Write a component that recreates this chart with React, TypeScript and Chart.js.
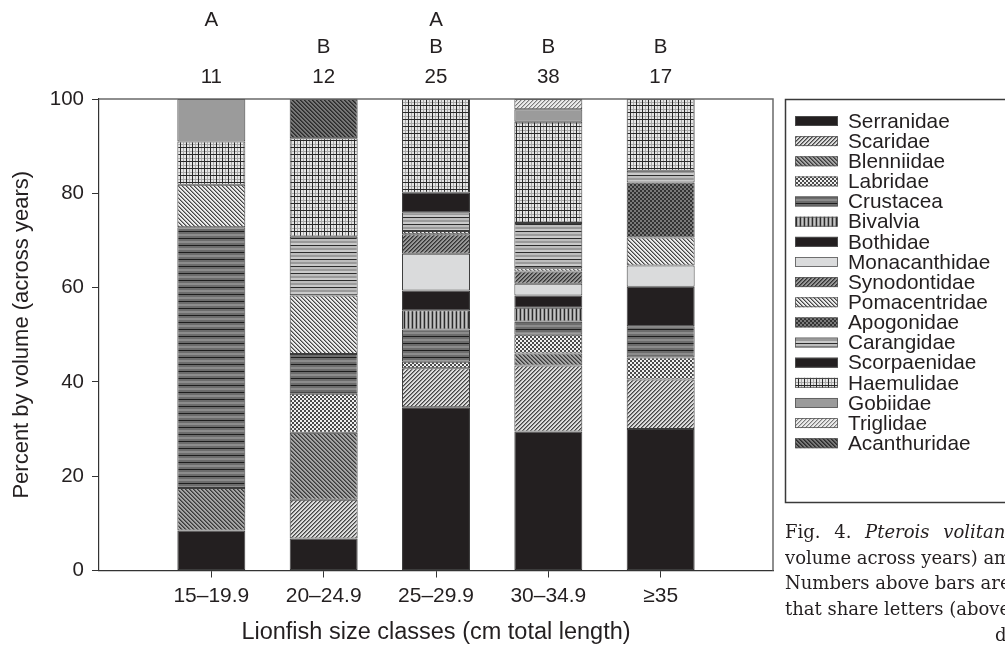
import { useEffect, useRef } from 'react';
import { Chart, registerables } from 'chart.js';

Chart.register(...registerables);

// Size classes (cm total length) and annotations above each bar
const sizeClasses = ['15–19.9', '20–24.9', '25–29.9', '30–34.9', '≥35'];
const sampleSizes = ['11', '12', '25', '38', '17'];
const groupLettersA = ['A', '', 'A', '', ''];
const groupLettersB = ['', 'B', 'B', 'B', 'B'];
const yTickStep = 20;

// Percent by volume of each prey group, one value per size class
const serranidae = [8.5, 6.8, 34.6, 29.5, 30.0];
const scaridae = [0, 8.2, 8.3, 14.0, 10.5];
const blenniidae = [9.0, 14.2, 0, 2.5, 0];
const labridae = [0, 8.3, 1.4, 4.0, 4.7];
const crustacea = [55.3, 8.4, 6.8, 2.8, 6.6];
const bivalvia = [0, 0, 4.1, 2.9, 0];
const bothidae = [0, 0, 4.2, 2.6, 8.4];
const monacanthidae = [0, 0, 7.8, 2.5, 4.5];
const synodontidae = [0, 0, 4.1, 2.6, 0];
const pomacentridae = [9.0, 12.4, 0.7, 0.7, 5.9];
const apogonidae = [0, 0, 0, 0, 11.7];
const carangidae = [0, 12.5, 4.0, 9.6, 2.5];
const scorpaenidae = [0, 0, 4.1, 0, 0];
const haemulidae = [9.2, 20.9, 19.9, 21.5, 15.2];
const gobiidae = [9.0, 0, 0, 2.6, 0];
const triglidae = [0, 0, 0, 2.2, 0];
const acanthuridae = [0, 8.3, 0, 0, 0];

const SANS = '"Liberation Sans", Arial, Helvetica, sans-serif';
const INK = '#231f20';

type PixelFn = (x: number, y: number) => string;

// Builds a small repeating tile, painted pixel by pixel
function tile(w: number, h: number, colorAt: PixelFn): CanvasPattern | string {
  const c = document.createElement('canvas');
  c.width = w;
  c.height = h;
  const g = c.getContext('2d');
  if (!g) return '#888';
  for (let y = 0; y < h; y++) {
    for (let x = 0; x < w; x++) {
      g.fillStyle = colorAt(x, y);
      g.fillRect(x, y, 1, 1);
    }
  }
  return g.createPattern(c, 'repeat') || '#888';
}

// "/" stripes
const slash = (cols: string[]) => tile(cols.length, cols.length, (x, y) => cols[(x + y) % cols.length]);
// "\" stripes
const backslash = (cols: string[]) =>
  tile(cols.length, cols.length, (x, y) => cols[(x - y + cols.length * 4) % cols.length]);
const rows = (cols: string[]) => tile(1, cols.length, (_x, y) => cols[y]);
const columns = (cols: string[]) => tile(cols.length, 1, (x) => cols[x]);
const checker = (a: string, b: string) => tile(4, 4, (x, y) => (((x >> 1) + (y >> 1)) % 2 === 0 ? a : b));

function buildFills() {
  return {
    serranidae: INK,
    scaridae: slash(['#454545', '#8a8a8a', '#dedede', '#dedede']),
    blenniidae: backslash(['#3a3a3a', '#666666', '#a6a6a6', '#a6a6a6']),
    labridae: checker('#f0f0f0', '#4a4a4a'),
    crustacea: rows(['#1e1e1e', '#6c6c6c', '#6c6c6c', '#8c8c8c', '#8c8c8c', '#6c6c6c', '#6c6c6c']),
    bivalvia: columns(['#2a2a2a', '#a4a4a4', '#c4c4c4', '#8e8e8e']),
    bothidae: INK,
    monacanthidae: '#dadbdc',
    synodontidae: slash(['#333333', '#5e5e5e', '#979797', '#979797']),
    pomacentridae: backslash(['#444444', '#9a9a9a', '#ececec', '#ececec']),
    apogonidae: checker('#7a7a7a', '#333333'),
    carangidae: rows(['#2c2c2c', '#bdbdbd', '#bdbdbd', '#9a9a9a', '#9a9a9a', '#cacaca', '#cacaca']),
    scorpaenidae: INK,
    haemulidae: tile(6, 7, (x, y) => {
      if (x === 0 || y === 0) return '#2a2a2a';
      if (x === 3 || y === 4) return '#a8a8a8';
      return '#e6e6e6';
    }),
    gobiidae: '#9b9b9b',
    triglidae: slash(['#7a7a7a', '#c4c4c4', '#ececec', '#ececec']),
    acanthuridae: backslash(['#2a2a2a', '#444444', '#777777', '#777777']),
  };
}

// Legend drawn in a box to the right of the plot
const legendBox = {
  id: 'legendBox',
  afterDraw(chart: any) {
    const ctx = chart.ctx as CanvasRenderingContext2D;
    ctx.save();
    ctx.strokeStyle = '#3a3a3a';
    ctx.lineWidth = 1.5;
    ctx.strokeRect(785.5, 99.5, 260, 403);
    ctx.font = `20.8px ${SANS}`;
    ctx.textBaseline = 'middle';
    ctx.textAlign = 'left';
    chart.data.datasets.forEach((ds: any, i: number) => {
      const cy = 121 + i * 20.14;
      ctx.fillStyle = ds.backgroundColor;
      ctx.fillRect(795, cy - 5, 43, 10);
      ctx.strokeStyle = '#555';
      ctx.lineWidth = 0.8;
      ctx.strokeRect(795.5, cy - 4.5, 42, 9);
      ctx.fillStyle = INK;
      ctx.fillText(ds.label, 848, cy + 1);
    });
    ctx.restore();
  },
};

// Top and right edges of the plot frame
const plotFrame = {
  id: 'plotFrame',
  afterDraw(chart: any) {
    const { ctx, chartArea } = chart;
    ctx.save();
    ctx.strokeStyle = '#6a6a6a';
    ctx.lineWidth = 1.5;
    ctx.beginPath();
    ctx.moveTo(chartArea.left, chartArea.top);
    ctx.lineTo(chartArea.right, chartArea.top);
    ctx.lineTo(chartArea.right, chartArea.bottom);
    ctx.stroke();
    ctx.restore();
  },
};

// Group letters and sample sizes above each bar
const barHeaders = {
  id: 'barHeaders',
  afterDraw(chart: any) {
    const ctx = chart.ctx as CanvasRenderingContext2D;
    const xs = chart.scales.x;
    ctx.save();
    ctx.font = `20.5px ${SANS}`;
    ctx.fillStyle = INK;
    ctx.textAlign = 'center';
    ctx.textBaseline = 'middle';
    sizeClasses.forEach((_c, i) => {
      const x = xs.getPixelForValue(i + 1);
      if (groupLettersA[i]) ctx.fillText(groupLettersA[i], x, 20);
      if (groupLettersB[i]) ctx.fillText(groupLettersB[i], x, 47);
      ctx.fillText(sampleSizes[i], x, 77);
    });
    ctx.restore();
  },
};

export default function App() {
  const ref = useRef<HTMLCanvasElement>(null);

  useEffect(() => {
    if (!ref.current) return;
    const f = buildFills();
    const groups: [string, number[], CanvasPattern | string][] = [
      ['Serranidae', serranidae, f.serranidae],
      ['Scaridae', scaridae, f.scaridae],
      ['Blenniidae', blenniidae, f.blenniidae],
      ['Labridae', labridae, f.labridae],
      ['Crustacea', crustacea, f.crustacea],
      ['Bivalvia', bivalvia, f.bivalvia],
      ['Bothidae', bothidae, f.bothidae],
      ['Monacanthidae', monacanthidae, f.monacanthidae],
      ['Synodontidae', synodontidae, f.synodontidae],
      ['Pomacentridae', pomacentridae, f.pomacentridae],
      ['Apogonidae', apogonidae, f.apogonidae],
      ['Carangidae', carangidae, f.carangidae],
      ['Scorpaenidae', scorpaenidae, f.scorpaenidae],
      ['Haemulidae', haemulidae, f.haemulidae],
      ['Gobiidae', gobiidae, f.gobiidae],
      ['Triglidae', triglidae, f.triglidae],
      ['Acanthuridae', acanthuridae, f.acanthuridae],
    ];

    const chart = new Chart(ref.current, {
      type: 'bar',
      data: {
        datasets: groups.map(([label, values, fill]) => ({
          label,
          data: values.map((v, i) => ({ x: i + 1, y: v > 0 ? v : null })),
          backgroundColor: fill as any,
          borderColor: '#3c3c3c',
          borderWidth: 1,
          borderSkipped: false,
          barPercentage: 0.605,
          categoryPercentage: 1,
        })) as any,
      },
      options: {
        responsive: false,
        animation: false,
        events: [],
        layout: { padding: { left: 0, top: 99, right: 232, bottom: 0 } },
        plugins: { legend: { display: false }, tooltip: { enabled: false } },
        scales: {
          x: {
            type: 'linear',
            min: 0,
            max: 6,
            offset: false,
            stacked: true,
            afterBuildTicks: (s: any) => {
              s.ticks = sizeClasses.map((_c, i) => ({ value: i + 1 }));
            },
            afterFit: (s: any) => {
              s.height = 79.5;
            },
            ticks: {
              autoSkip: false,
              maxRotation: 0,
              padding: 6,
              color: INK,
              font: { family: SANS, size: 21 },
              callback: (v: any) => sizeClasses[Number(v) - 1] ?? '',
            },
            grid: { offset: false, drawOnChartArea: false, tickLength: 7, color: '#333', tickColor: '#333' },
            border: { color: '#333', width: 1.2 },
            title: {
              display: true,
              text: 'Lionfish size classes (cm total length)',
              color: INK,
              font: { family: SANS, size: 23.5 },
              padding: { top: 0, bottom: 3 },
            },
          },
          y: {
            min: 0,
            max: 100,
            stacked: true,
            afterFit: (s: any) => {
              s.width = 99;
            },
            ticks: {
              stepSize: yTickStep,
              padding: 8,
              color: INK,
              font: { family: SANS, size: 20.5 },
            },
            grid: { drawOnChartArea: false, tickLength: 7, color: '#333', tickColor: '#333' },
            border: { color: '#333', width: 1.2 },
            title: {
              display: true,
              text: 'Percent by volume (across years)',
              color: INK,
              font: { family: SANS, size: 22 },
              padding: { top: 9, bottom: 0 },
            },
          },
        },
      } as any,
      plugins: [plotFrame, legendBox, barHeaders],
    });
    return () => chart.destroy();
  }, []);

  const line = { height: 25.7, lineHeight: '25.7px', whiteSpace: 'nowrap' as const };

  return (
    <div style={{ position: 'absolute', left: 0, top: 0, width: 1005, height: 650, overflow: 'hidden', background: '#fff' }}>
      <canvas ref={ref} width={1005} height={650} style={{ display: 'block' }} />
      <div
        style={{
          position: 'absolute',
          left: 785,
          top: 519,
          width: 220,
          height: 131,
          overflow: 'hidden',
          fontFamily: '"DejaVu Serif", "Liberation Serif", serif',
          fontSize: 18,
          color: INK,
        }}
      >
        <div style={{ ...line, wordSpacing: 8 }}>
          Fig. 4. <i>Pterois volitans</i> diet composition (percent by
        </div>
        <div style={line}>volume across years) among lionfish size classes.</div>
        <div style={line}>Numbers above bars are sample sizes; size classes</div>
        <div style={line}>that share letters (above sample sizes) are not significantly</div>
        <div style={{ ...line, paddingLeft: 210 }}>different</div>
      </div>
    </div>
  );
}
